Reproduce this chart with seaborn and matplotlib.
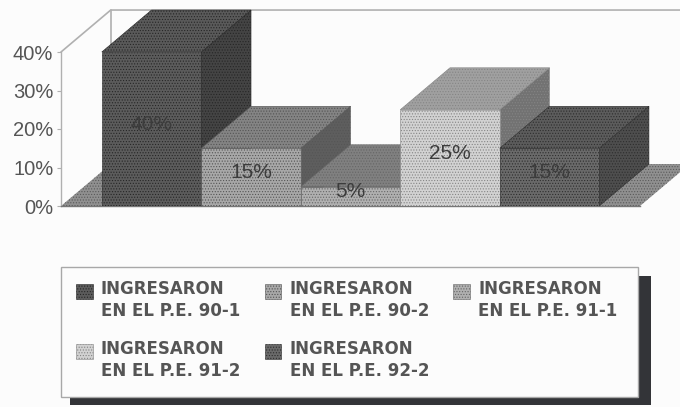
import matplotlib
matplotlib.use("Agg")
import matplotlib.pyplot as plt
import pandas as pd
import seaborn as sns
from matplotlib.legend_handler import HandlerPatch
from matplotlib.patches import Patch, Polygon, Rectangle

#data
periodos = ["90-1", "90-2", "91-1", "91-2", "92-2"]
valores = [40, 15, 5, 25, 15]
etiquetas = ["40%", "15%", "5%", "25%", "15%"]
ticks = [0, 10, 20, 30, 40]
tick_labels = ["0%", "10%", "20%", "30%", "40%"]
leyenda = ["INGRESARON\nEN EL P.E. " + p for p in periodos]

#front, top and side colours + dot colour per bar
frente = ["#5c5c5c", "#a8a8a8", "#b0b0b0", "#d2d2d2", "#6a6a6a"]
arriba = ["#5a5a5a", "#848484", "#808080", "#a0a0a0", "#5c5c5c"]
lado = ["#444444", "#5e5e5e", "#5e5e5e", "#727272", "#4e4e4e"]
puntos = ["#262626", "#555555", "#666666", "#858585", "#2e2e2e"]

sns.set_style("white")
plt.rcParams["font.family"] = ["Liberation Sans", "DejaVu Sans"]
plt.rcParams["hatch.linewidth"] = 0.5

W, H = 680, 407
fig = plt.figure(figsize=(W / 100, H / 100), dpi=100, facecolor="#fcfcfc")
ax = fig.add_axes([61 / W, 1 - 206 / H, 579 / W, 154 / H])
ax.patch.set_alpha(0)

df = pd.DataFrame({"periodo": periodos, "valor": valores})
sns.barplot(data=df, x="periodo", y="valor", hue="periodo", palette=frente,
            width=1, dodge=False, legend=False, ax=ax, saturation=1)

ax.set_xlim(-0.91, 4.91)
ax.set_ylim(0, 40)
dx = 0.5   #depth of the boxes, in x units
dy = 10.9  #depth of the boxes, in y units

xmin, xmax = ax.get_xlim()
gris = "#b0b0b0"
#back walls
ax.plot([xmin, xmin + dx, xmax + dx], [40, 40 + dy, 40 + dy], color=gris, lw=1.2, clip_on=False, zorder=1)
ax.plot([xmin + dx, xmin + dx], [dy, 40 + dy], color=gris, lw=1.2, clip_on=False, zorder=1)
#floor
ax.add_patch(Polygon([(xmin, 0), (xmin + dx, dy), (xmax + dx, dy), (xmax, 0)], closed=True,
                     facecolor="#909090", edgecolor="#5a5a5a", hatch="......", lw=0,
                     clip_on=False, zorder=2))

for i, barra in enumerate(ax.patches[:len(valores)]):
    v = valores[i]
    x0 = i - 0.5
    x1 = i + 0.5
    barra.set_edgecolor(puntos[i])
    barra.set_hatch("......")
    barra.set_linewidth(0.4)
    barra.set_zorder(3 + i * 3 + 2)
    ax.add_patch(Polygon([(x1, 0), (x1 + dx, dy), (x1 + dx, v + dy), (x1, v)], closed=True,
                         facecolor=lado[i], edgecolor=puntos[i], hatch="......", lw=0.4,
                         clip_on=False, zorder=3 + i * 3))
    ax.add_patch(Polygon([(x0, v), (x0 + dx, v + dy), (x1 + dx, v + dy), (x1, v)], closed=True,
                         facecolor=arriba[i], edgecolor=puntos[i], hatch="......", lw=0.4,
                         clip_on=False, zorder=3 + i * 3 + 1))
    ax.text(i, v / 2 + 1.2, etiquetas[i], ha="center", va="center", fontsize=15,
            color="#3c3c3c", zorder=30)

sns.despine(ax=ax, top=True, right=True, bottom=False, left=False)
for s in ["left", "bottom"]:
    ax.spines[s].set_color(gris)
    ax.spines[s].set_linewidth(1.0)
ax.spines["bottom"].set_color("#777777")
ax.set_xticks([])
ax.set_xlabel("")
ax.set_ylabel("")
ax.set_yticks(ticks)
ax.set_yticklabels(tick_labels, fontsize=14.5, color="#555555")
ax.tick_params(axis="y", left=True, length=3, width=0.8, color=gris, pad=2.5)

#legend box and its shadow, placed in pixels
def caja(x0, y0, x1, y1, **kw):
    fig.add_artist(Rectangle((x0 / W, 1 - y1 / H), (x1 - x0) / W, (y1 - y0) / H,
                             transform=fig.transFigure, **kw))

caja(70, 276, 651, 405, facecolor="#333438", edgecolor="none", zorder=1)
caja(61, 267, 638, 397, facecolor="#fcfcfc", edgecolor="#a8a8a8", lw=1, zorder=2)

#swatch sits next to the first text line, not centred on both
def cuadro(legend, orig_handle, xdescent, ydescent, width, height, fontsize):
    return Rectangle((-xdescent, -ydescent + 0.62 * fontsize), width, height)

handles = [Patch(facecolor=frente[i], edgecolor=puntos[i], hatch="......", lw=0.4) for i in range(len(periodos))]
#matplotlib fills columns first, the reference reads row by row
orden = [0, 3, 1, 4, 2]
leg = fig.legend([handles[i] for i in orden], [leyenda[i] for i in orden], ncol=3, frameon=False,
                 loc="upper left", bbox_to_anchor=(71 / W, 1 - 275 / H),
                 prop={"family": "DejaVu Sans", "weight": "bold", "size": 12},
                 labelcolor="#555555", handlelength=1.0, handleheight=1.0,
                 handletextpad=0.5, columnspacing=1.45, labelspacing=1.2,
                 borderpad=0.3, borderaxespad=0, alignment="left",
                 handler_map={Patch: HandlerPatch(patch_func=cuadro)})
for t in leg.get_texts():
    t.set_linespacing(1.3)
leg.set_zorder(3)

fig.savefig("out.png", dpi=100, facecolor=fig.get_facecolor())
